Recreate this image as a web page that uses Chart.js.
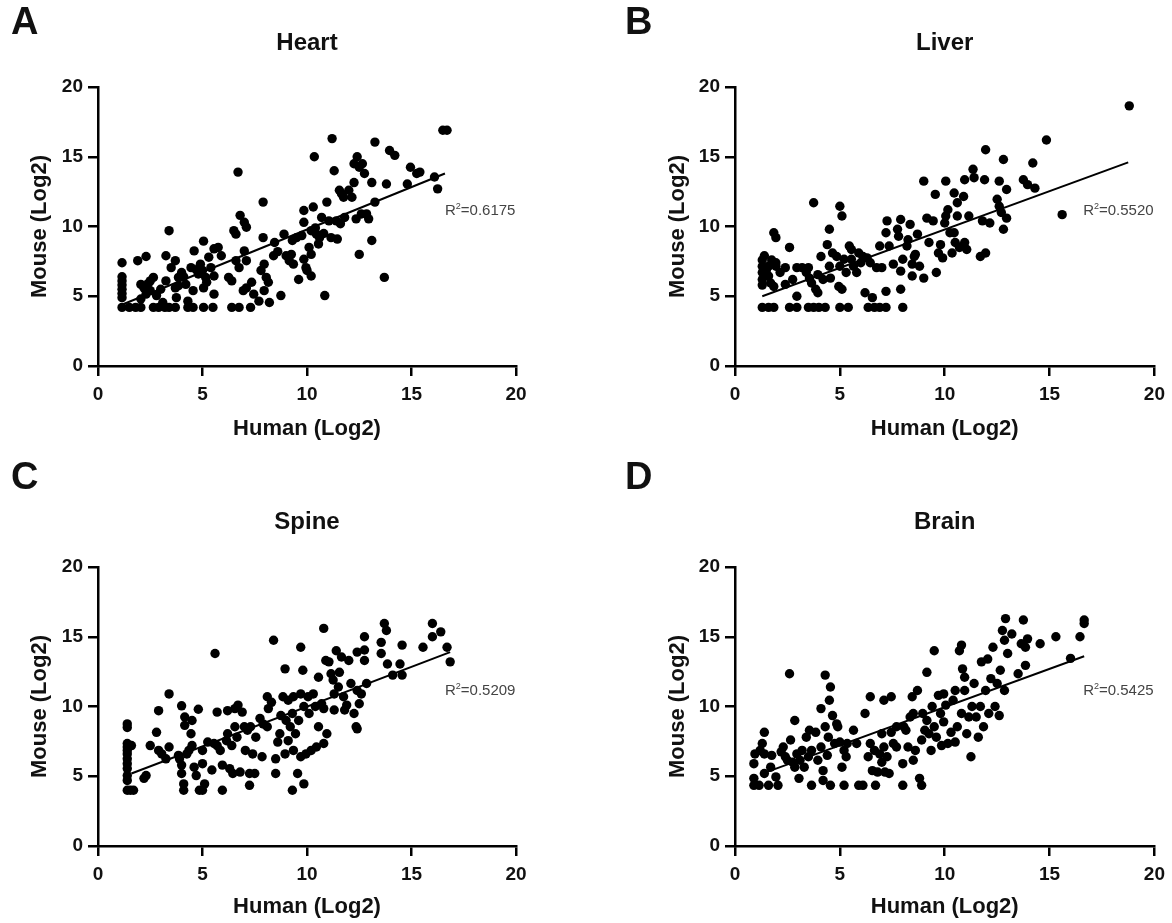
<!DOCTYPE html>
<html>
<head>
<meta charset="utf-8">
<script src="https://cdn.jsdelivr.net/npm/chart.js@4.4.1/dist/chart.umd.min.js"></script>
<style>
  html, body { margin: 0; padding: 0; background: #fff; }
  #wrap { position: relative; width: 1172px; height: 923px; }
  canvas { position: absolute; }
</style>
</head>
<body>
<div id="wrap">
  <canvas id="pA" width="586" height="461" style="left:0;top:0"></canvas>
  <canvas id="pB" width="586" height="461" style="left:586px;top:0"></canvas>
  <canvas id="pC" width="586" height="462" style="left:0;top:461px"></canvas>
  <canvas id="pD" width="586" height="462" style="left:586px;top:461px"></canvas>
</div>
<script>
// panel labels and titles
const letters = ["A", "B", "C", "D"];
const tissues = ["Heart", "Liver", "Spine", "Brain"];
const r2Values = ["0.6175", "0.5520", "0.5209", "0.5425"];
const axisTicks = [0, 5, 10, 15, 20];

// [human log2, mouse log2]
const heartPoints = [
  [1.15,7.4],[1.15,6.4],[1.15,6.1],[1.15,5.8],[1.15,5.5],[1.15,5.2],[1.15,4.9],[1.15,4.2],
  [1.5,4.2],[1.8,4.2],[2.05,4.2],[2.65,4.2],[2.9,4.2],[3.2,4.2],[3.4,4.2],[3.7,4.2],[4.3,4.2],[4.55,4.2],[5.05,4.2],[5.5,4.2],[6.4,4.2],[6.75,4.2],[7.3,4.2],
  [1.9,7.55],[2.3,7.85],[2.05,5.85],[2.2,5.6],[2.3,5.15],[2.5,6.1],[2.65,6.35],[2.5,5.4],[2.8,5.05],[2.05,4.8],[3.0,5.5],[2.4,5.9],
  [3.25,7.9],[3.4,9.7],[3.25,6.1],[3.1,4.55],[3.5,7.05],[3.7,7.55],[3.7,5.6],[3.85,6.35],[4.0,6.7],[4.2,5.85],[3.85,5.75],[3.75,4.9],[4.3,4.65],[4.55,5.4],[4.6,8.25],[4.45,7.05],[4.8,6.6],[4.9,7.3],[4.1,6.4],[4.7,6.9],
  [5.05,8.95],[5.0,6.85],[5.15,6.35],[5.05,5.6],[5.2,6.0],[5.3,7.8],[5.55,8.4],[5.75,8.5],[5.55,5.15],[5.55,6.45],[5.4,7.05],[5.9,7.9],
  [6.25,6.35],[6.4,6.1],[6.5,9.7],[6.6,9.45],[6.7,13.9],[6.8,10.8],[7.0,10.3],[7.1,9.95],[6.6,7.55],[6.75,7.05],[7.0,8.25],[7.1,7.55],[6.95,5.4],[7.1,5.6],[7.35,6.0],[7.45,5.15],[7.7,4.65],
  [7.9,11.75],[7.9,9.2],[7.8,6.85],[7.95,7.3],[8.05,6.35],[8.15,6.0],[7.95,5.4],[8.2,4.55],[8.4,7.9],[8.45,8.85],[8.75,5.05],[8.9,9.45],[8.6,8.2],
  [9.0,7.9],[9.15,7.55],[9.25,8.0],[9.35,7.3],[9.5,9.2],[9.6,6.2],[9.75,9.35],[9.85,7.65],[9.85,11.15],[9.85,10.3],[9.95,7.05],[9.3,9.0],
  [10.0,6.85],[10.2,6.45],[10.3,11.4],[10.2,9.7],[10.1,8.5],[10.2,8.0],[10.35,15.0],[10.45,9.45],[10.55,8.75],[10.6,9.2],[10.7,10.65],[10.85,5.05],[10.95,11.75],[10.4,9.9],[10.8,9.5],
  [11.05,10.4],[11.15,9.2],[11.2,16.3],[11.3,14.0],[11.4,10.4],[11.45,9.1],[11.55,12.6],[11.65,12.35],[11.75,12.1],[11.8,10.65],[11.6,10.2],
  [12.0,12.6],[12.15,12.1],[12.25,13.15],[12.25,14.5],[12.35,10.55],[12.4,15.0],[12.5,14.25],[12.6,10.9],[12.5,8.0],[12.65,14.5],[12.75,13.8],[12.85,10.9],[12.95,10.55],
  [13.1,13.15],[13.1,9.0],[13.25,16.05],[13.25,11.75],[13.7,6.35],[13.8,13.05],[13.95,15.45],[14.2,15.1],
  [14.8,13.05],[14.95,14.25],[15.25,13.8],[15.4,13.9],[16.1,13.55],[16.25,12.7],[16.5,16.9],[16.7,16.9]
];

const liverPoints = [
  [1.3,4.2],[1.6,4.2],[1.85,4.2],[2.6,4.2],[2.95,4.2],[3.5,4.2],[3.75,4.2],[4.0,4.2],[4.3,4.2],[5.0,4.2],[5.4,4.2],[6.35,4.2],[6.65,4.2],[6.9,4.2],[7.2,4.2],[8.0,4.2],
  [1.3,7.6],[1.3,7.15],[1.3,6.7],[1.3,6.2],[1.3,5.8],[1.6,7.15],[1.6,6.45],[1.75,7.6],[1.85,9.55],[1.95,9.2],[1.85,5.7],[1.95,7.15],[2.15,6.7],[2.4,7.05],[2.6,8.5],[2.4,5.85],[2.75,6.2],[2.95,5.0],[2.95,7.05],
  [1.4,7.9],[1.5,6.9],[1.7,5.95],[1.95,7.4],
  [3.2,7.05],[3.4,6.7],[3.5,7.05],[3.55,6.3],[3.75,11.7],[3.65,5.95],[3.85,5.5],[3.95,5.25],[3.95,6.55],[4.1,7.85],[4.2,6.2],[4.4,8.7],[4.5,9.8],[4.5,7.15],[4.55,6.3],[4.65,8.1],[4.85,7.85],[4.95,5.7],
  [5.0,11.45],[5.1,10.75],[5.0,7.15],[5.1,5.5],[5.2,7.65],[5.3,6.7],[5.45,8.6],[5.55,8.35],[5.55,7.65],[5.65,7.15],[5.8,6.7],[5.9,8.1],[6.0,7.4],[6.1,7.85],[6.2,5.25],[6.3,7.75],[6.45,7.4],[6.55,4.9],[6.75,7.05],[6.9,8.6],[7.0,7.05],
  [7.2,5.35],[7.25,10.4],[7.2,9.55],[7.35,8.6],[7.55,7.3],[7.75,9.8],[7.8,9.3],[7.9,6.8],[7.9,5.5],[7.9,10.5],[8.0,7.65],[8.2,8.6],[8.25,9.05],[8.35,10.15],[8.45,7.3],[8.45,6.45],[8.55,7.85],[8.6,8.0],[8.7,9.45],[8.8,7.15],
  [9.0,6.3],[9.0,13.25],[9.15,10.6],[9.25,8.85],[9.45,10.4],[9.55,12.3],[9.6,6.7],[9.7,8.1],[9.8,8.7],[9.9,7.75],[10.0,10.25],[10.05,13.25],[10.05,10.75],[10.15,11.2],[10.25,9.55],[10.35,8.1],[10.45,12.4],[10.45,9.55],[10.5,8.85],[10.6,11.7],[10.6,10.75],[10.7,8.5],[10.9,12.15],[10.95,13.35],[10.95,8.85],[11.05,8.35],[11.15,10.75],[11.35,14.1],[11.4,13.5],[11.7,7.85],[11.8,10.4],[11.9,13.35],[11.95,8.1],[11.95,15.5],[12.15,10.25],
  [12.5,11.95],[12.6,13.25],[12.6,11.45],[12.7,11.0],[12.8,9.8],[12.8,14.8],[12.95,12.65],[12.95,10.6],[13.75,13.35],[13.95,13.0],[14.2,14.55],[14.3,12.75],[14.85,16.2],[15.6,10.85],[18.8,18.65]
];

const spinePoints = [
  [1.4,8.75],[1.4,8.5],[1.4,7.35],[1.4,7.1],[1.4,6.85],[1.4,6.6],[1.4,6.25],[1.4,5.9],[1.4,5.55],[1.4,5.05],[1.4,4.7],[1.4,4.0],[1.6,7.2],[1.55,4.0],[1.7,4.0],
  [2.2,4.85],[2.3,5.05],[2.5,7.2],[2.8,8.15],[2.9,9.7],[2.9,6.85],[3.05,6.6],[3.25,6.25],[3.4,7.1],[3.4,10.9],[3.85,6.5],[3.9,6.25],
  [4.0,10.05],[4.0,5.8],[4.0,5.2],[4.1,4.45],[4.1,4.0],[4.15,9.25],[4.15,8.65],[4.25,6.6],[4.35,6.85],[4.45,8.05],[4.5,9.0],[4.5,7.2],[4.6,5.65],[4.7,5.05],[4.8,9.8],[4.85,4.0],
  [5.0,6.85],[5.0,4.0],[5.0,5.9],[5.1,4.45],[5.25,7.45],[5.45,5.45],[5.55,7.35],[5.6,13.8],[5.7,9.6],[5.7,7.2],[5.85,6.85],[5.95,4.0],[5.95,5.8],
  [6.15,7.55],[6.2,9.7],[6.2,8.05],[6.3,5.55],[6.4,7.2],[6.45,5.2],[6.55,8.55],[6.55,9.85],[6.65,7.8],[6.7,10.1],[6.8,5.3],[6.9,9.6],
  [7.0,8.55],[7.05,6.85],[7.15,8.3],[7.25,4.35],[7.25,5.2],[7.3,8.55],[7.4,6.6],[7.5,5.2],[7.55,7.8],[7.75,9.15],[7.85,6.4],[7.9,8.75],
  [8.1,8.55],[8.1,10.7],[8.15,9.85],[8.3,10.3],[8.4,14.75],[8.5,6.25],[8.5,5.2],[8.6,7.45],[8.7,8.05],[8.75,9.35],[8.85,10.7],[8.95,6.6],[8.95,12.7],
  [9.0,9.0],[9.1,10.45],[9.1,7.55],[9.2,8.55],[9.3,4.0],[9.3,9.5],[9.35,6.85],[9.35,10.7],[9.45,8.05],[9.55,5.2],[9.6,9.0],[9.7,14.25],[9.7,10.9],[9.7,6.4],[9.8,12.6],[9.85,4.45],[9.85,10.0],[9.95,6.6],
  [10.05,10.7],[10.1,9.5],[10.2,6.85],[10.3,10.9],[10.4,10.0],[10.45,7.1],[10.55,8.55],[10.55,12.1],[10.7,10.2],[10.8,15.6],[10.8,9.85],[10.8,7.35],[10.9,13.3],[10.95,8.05],
  [11.05,13.2],[11.15,12.35],[11.25,11.9],[11.3,10.9],[11.3,9.75],[11.4,14.0],[11.5,11.4],[11.55,12.45],[11.65,13.55],[11.75,10.7],[11.8,9.75],[11.9,10.1],
  [12.0,13.3],[12.1,11.65],[12.25,9.5],[12.35,8.55],[12.4,13.9],[12.4,11.15],[12.4,8.4],[12.5,10.2],[12.6,10.9],[12.75,15.0],[12.75,14.05],[12.75,13.3],[12.85,11.65],
  [13.55,14.6],[13.55,13.8],[13.7,15.95],[13.8,15.45],[13.85,13.05],[14.1,12.25],[14.45,13.05],[14.55,14.4],[14.55,12.25],[15.55,14.25],[16.0,15.95],[16.0,15.0],[16.4,15.35],[16.7,14.25],[16.85,13.2]
];

const brainPoints = [
  [0.9,4.85],[0.9,4.35],[0.9,5.9],[0.95,6.6],[1.15,4.35],[1.2,6.85],[1.3,7.35],[1.4,8.15],[1.4,6.6],[1.4,5.2],[1.6,4.35],[1.7,5.65],[1.75,6.5],[1.95,4.95],[2.05,4.35],
  [2.2,6.75],[2.3,7.1],[2.4,6.4],[2.5,6.15],[2.6,12.35],[2.65,7.6],[2.75,6.0],[2.85,9.0],[2.85,5.65],[2.95,6.6],[3.05,4.85],[3.1,6.15],[3.2,6.85],[3.3,5.65],[3.4,7.8],[3.5,6.4],[3.55,8.3],[3.65,4.35],[3.65,6.85],[3.85,8.15],[3.95,6.15],
  [4.1,9.85],[4.1,7.1],[4.2,5.4],[4.2,4.7],[4.3,12.25],[4.3,8.55],[4.4,6.5],[4.45,7.8],[4.5,10.45],[4.55,11.4],[4.55,4.35],[4.65,9.35],[4.75,7.35],[4.85,8.75],[4.9,8.55],
  [5.0,7.45],[5.1,5.65],[5.2,4.35],[5.2,6.85],[5.3,6.4],[5.35,7.35],[5.65,8.3],[5.8,7.35],[5.9,4.35],[6.1,4.35],[6.2,9.5],[6.35,6.4],[6.45,10.7],[6.45,7.35],[6.55,5.4],[6.65,6.85],[6.7,4.35],[6.8,5.3],[6.9,6.6],
  [7.0,8.05],[7.0,6.0],[7.1,10.45],[7.1,7.1],[7.15,5.3],[7.25,6.4],[7.35,5.2],[7.45,10.7],[7.45,8.15],[7.55,7.35],[7.7,7.1],[7.7,8.55],
  [8.0,5.9],[8.0,4.35],[8.05,8.55],[8.15,8.3],[8.25,7.1],[8.35,9.25],[8.45,10.7],[8.5,9.5],[8.5,6.15],[8.6,6.85],[8.7,11.15],[8.8,4.85],[8.9,4.35],[8.9,7.6],[8.95,9.5],
  [9.05,8.3],[9.15,9.0],[9.15,12.45],[9.25,8.05],[9.35,6.85],[9.4,10.0],[9.5,14.0],[9.5,8.55],[9.6,7.8],[9.7,10.8],[9.8,9.5],[9.85,7.2],[9.95,10.9],[9.95,8.9],
  [10.05,10.1],[10.15,7.35],[10.3,8.15],[10.4,10.45],[10.5,11.15],[10.5,7.45],[10.6,8.55],[10.7,14.0],[10.8,14.4],[10.8,9.5],[10.85,12.7],[10.95,12.1],[10.95,11.15],
  [11.05,8.05],[11.15,9.25],[11.25,6.4],[11.3,10.0],[11.4,11.65],[11.5,9.25],[11.6,7.8],[11.7,10.0],[11.75,13.2],[11.85,8.55],[11.95,11.15],
  [12.05,13.4],[12.1,9.5],[12.2,12.0],[12.3,14.25],[12.4,10.0],[12.5,11.65],[12.6,9.35],[12.65,12.6],[12.75,15.45],[12.85,14.75],[12.85,11.15],[12.9,16.3],
  [13.0,13.8],[13.2,15.2],[13.5,12.35],[13.65,14.5],[13.75,16.2],[13.85,14.25],[13.85,12.95],[13.95,14.85],[14.55,14.5],[15.3,15.0],[16.0,13.45],[16.45,15.0],[16.65,16.2],[16.65,15.95]
];

// fitted lines: [xStart, yStart, xEnd, yEnd]
const heartFit = [1.2, 4.43, 16.6, 13.8];
const liverFit = [1.3, 5.0, 18.75, 14.6];
const spineFit = [1.6, 5.2, 16.85, 13.9];
const brainFit = [1.5, 5.3, 16.65, 13.6];

const FONT = '"Liberation Sans", Arial, Helvetica, sans-serif';
const INK = '#111';

// draws panel letter, title and R² note
const panelDeco = {
  id: 'panelDeco',
  afterDraw(chart, args, o) {
    const ctx = chart.ctx, a = chart.chartArea;
    ctx.save();
    ctx.fillStyle = INK;
    ctx.textBaseline = 'middle';
    ctx.textAlign = 'left';
    ctx.font = 'bold 38px ' + FONT;
    ctx.fillText(o.letter, o.letterX, o.letterY);
    ctx.textAlign = 'center';
    ctx.font = 'bold 24px ' + FONT;
    ctx.fillText(o.title, (a.left + a.right) / 2, o.titleY);

    const x = chart.scales.x.getPixelForValue(16.6);
    const y = chart.scales.y.getPixelForValue(11.1);
    ctx.textAlign = 'left';
    ctx.fillStyle = '#444';
    ctx.font = '15px ' + FONT;
    ctx.fillText('R', x, y);
    let w = ctx.measureText('R').width;
    ctx.font = '9px ' + FONT;
    ctx.fillText('2', x + w, y - 5);
    w += ctx.measureText('2').width;
    ctx.font = '15px ' + FONT;
    ctx.fillText('=' + o.r2, x + w, y);
    ctx.restore();
  }
};

const panels = [
  { id: 'pA', pts: heartPoints, fit: heartFit, padL: 98,  padR: 70, padT: 87,  xH: 95, yTitlePad: 27, xTitlePad: 19, letterX: 11, letterY: 24, titleY: 43 },
  { id: 'pB', pts: liverPoints, fit: liverFit, padL: 149, padR: 17, padT: 87,  xH: 95, yTitlePad: 79, xTitlePad: 19, letterX: 39, letterY: 24, titleY: 43 },
  { id: 'pC', pts: spinePoints, fit: spineFit, padL: 98,  padR: 70, padT: 106, xH: 77, yTitlePad: 27, xTitlePad: 3,  letterX: 11, letterY: 18, titleY: 61 },
  { id: 'pD', pts: brainPoints, fit: brainFit, padL: 149, padR: 17, padT: 106, xH: 77, yTitlePad: 79, xTitlePad: 3,  letterX: 39, letterY: 18, titleY: 61 }
];

function axis(title, titlePad, isX, size) {
  return {
    type: 'linear',
    min: 0,
    max: 20,
    afterBuildTicks: s => { s.ticks = axisTicks.map(v => ({ value: v })); },
    afterFit: s => { if (isX) s.height = size; else s.width = size; },
    border: { display: true, color: '#000', width: 2.5 },
    grid: { display: true, drawOnChartArea: false, drawTicks: true, tickLength: 10, color: '#000', lineWidth: 2.5 },
    ticks: { color: INK, padding: isX ? 7 : 5, maxRotation: 0, font: { family: FONT, size: 19, weight: 'bold' } },
    title: { display: true, text: title, color: INK, padding: isX ? { bottom: titlePad, top: 0 } : { top: titlePad, bottom: 0 },
             font: { family: FONT, size: 22, weight: 'bold' } }
  };
}

panels.forEach((p, i) => {
  new Chart(document.getElementById(p.id), {
    type: 'scatter',
    data: {
      datasets: [
        {
          type: 'line',
          data: [{ x: p.fit[0], y: p.fit[1] }, { x: p.fit[2], y: p.fit[3] }],
          borderColor: '#000',
          borderWidth: 2,
          pointRadius: 0,
          fill: false
        },
        {
          data: p.pts.map(([x, y]) => ({ x, y })),
          backgroundColor: '#000',
          borderWidth: 0,
          pointRadius: 4.7
        }
      ]
    },
    options: {
      responsive: false,
      animation: false,
      devicePixelRatio: 1,
      layout: { padding: { left: 0, right: p.padR, top: p.padT, bottom: 0 } },
      plugins: {
        legend: { display: false },
        tooltip: { enabled: false },
        panelDeco: { letter: letters[i], title: tissues[i], r2: r2Values[i], letterX: p.letterX, letterY: p.letterY, titleY: p.titleY }
      },
      scales: {
        x: axis('Human (Log2)', p.xTitlePad, true, p.xH),
        y: axis('Mouse (Log2)', p.yTitlePad, false, p.padL)
      }
    },
    plugins: [panelDeco]
  });
});
</script>
</body>
</html>
